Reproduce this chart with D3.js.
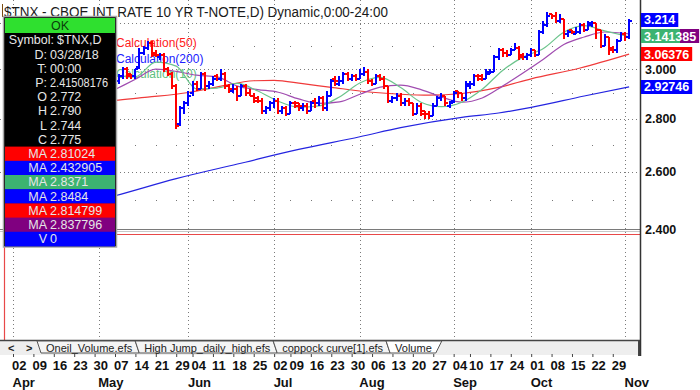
<!DOCTYPE html>
<html>
<head>
<meta charset="utf-8">
<script src="https://cdn.jsdelivr.net/npm/d3@7"></script>
<style>
  body { margin: 0; background: #fff; }
  svg { display: block; font-family: Arial, "Liberation Sans", sans-serif; }
  .grid { stroke: #7a7a7a; stroke-width: 1; stroke-dasharray: 1,3; fill: none; }
  .bar { fill: none; stroke-width: 2; shape-rendering: crispEdges; }
  .up { stroke: #0000ff; }
  .down { stroke: #ff0000; }
  .ma { fill: none; stroke-width: 1.2; }
  .price-axis text { font-size: 12.5px; font-weight: bold; fill: #111; font-family: Arial, "Liberation Sans", sans-serif; }
  .date-axis text { font-size: 13px; font-weight: bold; fill: #111; font-family: Arial, "Liberation Sans", sans-serif; }
  .date-axis line { stroke: #444; }
  .info text { font-size: 12.5px; fill: #e6e6e6; }
  .tab text { font-size: 11px; fill: #222; }
</style>
</head>
<body>
<svg id="chart"></svg>
<script>
const WIDTH = 700, HEIGHT = 390;
const PLOT_RIGHT = 640, PRICE_BOTTOM = 229, LOWER_BOTTOM = 340;

// ---- trading calendar (Apr 2 .. Nov 2, 2018) ----
const holidays = ['2018-05-28', '2018-07-04', '2018-09-03'];
const days = [];
for (let t = Date.UTC(2018, 3, 2); t <= Date.UTC(2018, 10, 2); t += 864e5) {
  const d = new Date(t), wd = d.getUTCDay();
  if (wd === 0 || wd === 6 || holidays.includes(d.toISOString().slice(0, 10))) continue;
  days.push(d);
}

// ---- price bars, first visible bar is index 22 (May 2) ----
const FIRST = 22;
const opens = [
  2.96,2.97,2.94,2.94,2.95,2.97,3.00,2.98,2.97,3.01,3.07,3.09,3.11,3.07,3.05,3.06,3.00,2.98,2.93,2.78,2.84,
  2.86,2.90,2.94,2.92,2.98,2.93,2.94,2.97,2.96,2.98,2.93,2.91,2.92,2.89,2.93,2.90,2.89,2.88,2.87,2.83,2.84,
  2.86,2.87,2.83,2.84,2.82,2.86,2.86,2.84,2.85,2.83,2.87,2.86,2.88,2.84,2.89,2.96,2.94,2.95,2.98,2.96,2.97,
  2.96,2.98,2.99,2.95,2.94,2.97,2.96,2.93,2.87,2.88,2.89,2.86,2.87,2.86,2.82,2.85,2.83,2.82,2.81,2.85,2.88,2.89,2.85,
  2.87,2.91,2.90,2.88,2.93,2.94,2.97,2.97,2.96,2.98,2.99,3.05,3.08,3.07,3.06,3.08,3.09,3.06,3.05,
  3.06,3.08,3.06,3.16,3.19,3.24,3.23,3.21,3.22,3.15,3.17,3.15,3.16,3.19,3.17,3.19,3.20,3.17,3.10,3.14,3.09,3.08,3.12,
  3.15,3.14
];
const highs = [
  2.99,2.98,2.96,2.96,2.98,3.01,3.01,2.98,3.00,3.09,3.10,3.12,3.12,3.08,3.07,3.07,3.01,2.99,2.94,2.85,2.87,
  2.91,2.95,2.95,2.99,2.99,2.95,2.97,2.98,3.00,2.99,2.94,2.94,2.93,2.94,2.94,2.92,2.90,2.89,2.88,2.85,2.87,
  2.88,2.88,2.85,2.85,2.87,2.87,2.86,2.86,2.86,2.87,2.88,2.89,2.89,2.91,2.96,2.97,2.97,2.99,2.99,2.98,2.98,
  3.00,3.01,3.00,2.96,2.98,2.98,2.97,2.93,2.89,2.90,2.90,2.88,2.88,2.86,2.86,2.86,2.83,2.83,2.86,2.89,2.90,2.89,2.87,
  2.91,2.91,2.90,2.95,2.95,2.98,2.98,2.98,3.00,3.00,3.06,3.09,3.09,3.08,3.09,3.11,3.10,3.07,3.07,
  3.09,3.08,3.17,3.21,3.25,3.24,3.25,3.24,3.22,3.17,3.17,3.18,3.20,3.20,3.21,3.21,3.20,3.17,3.15,3.14,3.10,3.13,3.16,
  3.16,3.22
];
const lows = [
  2.95,2.93,2.92,2.94,2.94,2.96,2.96,2.96,2.96,3.00,3.06,3.08,3.05,3.05,3.04,2.99,2.97,2.92,2.76,2.77,2.82,
  2.85,2.89,2.91,2.92,2.91,2.92,2.93,2.95,2.95,2.92,2.90,2.90,2.87,2.89,2.89,2.89,2.86,2.86,2.82,2.82,2.83,
  2.84,2.82,2.82,2.81,2.82,2.84,2.83,2.83,2.82,2.83,2.84,2.85,2.83,2.83,2.89,2.93,2.93,2.94,2.95,2.95,2.95,
  2.96,2.97,2.94,2.93,2.94,2.95,2.92,2.86,2.86,2.87,2.85,2.85,2.85,2.81,2.82,2.81,2.80,2.80,2.81,2.85,2.87,2.85,2.84,
  2.86,2.88,2.87,2.87,2.92,2.93,2.95,2.95,2.96,2.98,2.99,3.04,3.05,3.05,3.06,3.08,3.04,3.04,3.04,
  3.05,3.05,3.06,3.15,3.18,3.22,3.20,3.20,3.13,3.14,3.15,3.15,3.15,3.16,3.17,3.18,3.13,3.09,3.10,3.06,3.07,3.07,3.12,
  3.12,3.13
];
const closes = [
  2.97,2.94,2.95,2.95,2.97,3.00,2.97,2.97,3.00,3.07,3.09,3.11,3.06,3.06,3.06,3.00,2.98,2.93,2.77,2.84,2.86,
  2.89,2.94,2.92,2.98,2.93,2.94,2.96,2.96,2.98,2.93,2.92,2.92,2.89,2.93,2.90,2.89,2.87,2.87,2.83,2.84,2.86,
  2.87,2.83,2.84,2.82,2.86,2.85,2.85,2.85,2.83,2.86,2.86,2.88,2.84,2.89,2.95,2.95,2.95,2.98,2.96,2.97,2.96,
  2.98,2.99,2.95,2.94,2.97,2.96,2.93,2.87,2.88,2.89,2.86,2.87,2.86,2.82,2.85,2.82,2.82,2.81,2.85,2.88,2.89,2.86,2.86,
  2.90,2.90,2.88,2.94,2.94,2.97,2.96,2.96,2.99,2.99,3.05,3.08,3.07,3.06,3.08,3.09,3.05,3.05,3.06,
  3.08,3.06,3.16,3.19,3.23,3.23,3.21,3.22,3.15,3.16,3.16,3.16,3.19,3.17,3.20,3.20,3.17,3.10,3.14,3.08,3.08,3.12,3.15,
  3.14,3.21
];

// ---- moving averages, read at bar indexes ----
const maIdx  = [20,25,30,35,40,45,50,55,60,65,70,75,80,85,90,95,100,105,110,115,120,125,130,135,140,145,151];
const ma10   = [2.947,2.971,2.969,3.030,3.013,2.919,2.922,2.941,2.910,2.869,2.845,2.850,2.886,2.943,2.966,2.924,2.865,2.847,2.865,2.917,2.995,3.051,3.088,3.159,3.188,3.165,3.139];
const ma20   = [2.875,2.916,2.958,3.000,2.991,2.975,2.968,2.930,2.916,2.905,2.878,2.860,2.866,2.897,2.926,2.934,2.916,2.886,2.865,2.882,2.930,2.984,3.042,3.105,3.138,3.160,3.152];
const ma50Idx = [20,25,33,43,51,59,64,71,78,88,95,102,110,119,127,139,151];
const ma50    = [2.862,2.872,2.885,2.904,2.930,2.952,2.954,2.940,2.925,2.905,2.897,2.893,2.900,2.925,2.960,3.005,3.064];
const ma200Idx = [0,25,40,55,70,85,95,110,119,127,140,151];
const ma200    = [2.43,2.514,2.575,2.628,2.682,2.730,2.765,2.805,2.822,2.844,2.890,2.927];

// ---- axis / label text ----
const gridLevels = [3.2, 3.0, 2.8, 2.6, 2.4];
const priceTicks = [3.0, 2.8, 2.6, 2.4];   // 3.200 sits under the last-price box
const minorLevels = [3.1, 2.9, 2.7, 2.5];
const endLabels = [
  { text: '3.214',    value: 3.214,    fill: '#0000ff' },
  { text: '3.141385', value: 3.141385, fill: '#3cb371', tail: '#800080', split: 39 },
  { text: '3.06376',  value: 3.06376,  fill: '#ff0000' },
  { text: '2.92746',  value: 2.92746,  fill: '#0000ff' }
];
const studyNames = [
  { text: 'Calculation(50)',  color: '#ff2020' },
  { text: 'Calculation(200)', color: '#2020ff' },
  { text: 'Calculation(10)',  color: '#5fbf80' }
];
const infoRows = [
  ['Symbol:', '$TNX,D'], ['D:', '03/28/18'], ['T:', '00:00'], ['P:', '2.41508176'],
  ['O', '2.772'], ['H', '2.790'], ['L', '2.744'], ['C', '2.775']
];
const maRows = [
  ['MA', '2.81024', '#ff0000'], ['MA', '2.432905', '#0000ff'], ['MA', '2.8371', '#3cb371'],
  ['MA', '2.8484', '#0000ff'], ['MA', '2.814799', '#ff0000'], ['MA', '2.837796', '#800080'],
  ['V', '0', '#0000ff']
];
const tabs = ['Oneil_Volume.efs', 'High Jump_daily_high.efs', 'coppock curve[1].efs', 'Volume'];

// ---- scales ----
const x = d3.scaleLinear().domain([0, days.length - 1]).range([13, 629.1]);
const y = d3.scaleLog().domain([2.4, 3.2]).range([PRICE_BOTTOM, 23]);

const weekIdx = days.map((d, i) => i).filter(i => i === 0 || days[i].getUTCDay() <= days[i - 1].getUTCDay());
const monthIdx = days.map((d, i) => i).filter(i => i === 0 || days[i].getUTCMonth() !== days[i - 1].getUTCMonth());
const px = i => Math.round(x(i)) + 0.5;

const svg = d3.select('#chart').attr('width', WIDTH).attr('height', HEIGHT);
svg.append('rect').attr('width', WIDTH).attr('height', HEIGHT).attr('fill', '#fff');

svg.append('clipPath').attr('id', 'clipPrice')
  .append('rect').attr('x', 0).attr('y', 0).attr('width', PLOT_RIGHT).attr('height', PRICE_BOTTOM);

// grid
const grid = svg.append('g');
grid.selectAll('.vgrid').data(monthIdx).join('line')
  .attr('class', 'grid')
  .attr('x1', px).attr('x2', px).attr('y1', 0).attr('y2', LOWER_BOTTOM);
grid.selectAll('.hgrid').data(gridLevels).join('line')
  .attr('class', 'grid')
  .attr('x1', 0).attr('x2', PLOT_RIGHT)
  .attr('y1', d => Math.round(y(d)) + 0.5).attr('y2', d => Math.round(y(d)) + 0.5);

const dotPts = [];
weekIdx.filter(i => !monthIdx.includes(i)).forEach(i => minorLevels.forEach(v => dotPts.push([i, v])));
grid.selectAll('.dot').data(dotPts).join('rect')
  .attr('x', d => Math.round(x(d[0]))).attr('y', d => Math.round(y(d[1])))
  .attr('width', 1).attr('height', 1).attr('fill', '#777');

// study labels
svg.append('g').selectAll('text').data(studyNames).join('text')
  .attr('x', 116).attr('y', (d, i) => 47 + i * 15.5)
  .attr('font-size', 12).attr('fill', d => d.color)
  .text(d => d.text);

// moving averages
const price = svg.append('g').attr('clip-path', 'url(#clipPrice)');
const line = d3.line().x(d => x(d[0])).y(d => y(d[1])).curve(d3.curveMonotoneX);
const maSeries = [
  { idx: ma200Idx, vals: ma200, color: '#2424e0' },
  { idx: ma50Idx, vals: ma50, color: '#f03a3a' },
  { idx: maIdx, vals: ma20, color: '#a04cb0' },
  { idx: maIdx, vals: ma10, color: '#6cc48c' }
];
maSeries.forEach(s => {
  price.append('path').attr('class', 'ma').attr('stroke', s.color)
    .attr('d', line(s.idx.map((i, k) => [i, s.vals[k]])));
});

// OHLC bars
const bars = closes.map((c, k) => ({ i: FIRST + k, o: opens[k], h: highs[k], l: lows[k], c }));
price.selectAll('.bar').data(bars).join('path')
  .attr('class', d => 'bar ' + (d.c >= d.o ? 'up' : 'down'))
  .attr('d', d => {
    const bx = Math.round(x(d.i));
    return `M${bx},${y(d.h)}V${y(d.l)}M${bx - 3},${y(d.o)}H${bx}M${bx},${y(d.c)}H${bx + 3}`;
  });

// pane separator and lower pane
svg.append('line').attr('x1', 0).attr('x2', PLOT_RIGHT).attr('y1', 229.5).attr('y2', 229.5)
  .attr('stroke', '#7a7a7a').attr('stroke-width', 1.2);
svg.append('line').attr('x1', 0).attr('x2', PLOT_RIGHT).attr('y1', 231.5).attr('y2', 231.5)
  .attr('stroke', '#c8c8c8');
svg.append('path').attr('d', `M4.5,${LOWER_BOTTOM}V234.5H${PLOT_RIGHT}`)
  .attr('fill', 'none').attr('stroke', '#e84848').attr('stroke-width', 1.2);

// tab row
const tabRow = svg.append('g').attr('class', 'tab');
tabRow.append('rect').attr('x', 0).attr('y', 341).attr('width', PLOT_RIGHT).attr('height', 14).attr('fill', '#eeeeee');
tabRow.append('line').attr('x1', 0).attr('x2', PLOT_RIGHT).attr('y1', 340.5).attr('y2', 340.5)
  .attr('stroke', '#444').attr('stroke-width', 1.3);
tabRow.append('text').attr('x', 8).attr('y', 352).attr('font-size', 13).attr('font-weight', 'bold').attr('fill', '#555').text('<');
tabRow.append('text').attr('x', 26).attr('y', 352).attr('font-size', 13).attr('font-weight', 'bold').attr('fill', '#555').text('>');
let tx = 37;
tabs.forEach((t, k) => {
  const active = k === tabs.length - 1;
  const g = tabRow.append('g');
  const label = g.append('text').attr('x', tx + 9).attr('y', 351.5).text(t);
  const w = label.node().getComputedTextLength();
  const x1 = tx + 9 + w + 3;
  const pts = active
    ? [[tx, 341], [tx + 4, 353], [x1 + 1, 353], [x1 + 7, 341]]
    : [[tx, 341], [tx + 4, 353], [x1 + 4, 353], [x1, 341]];
  g.insert('polygon', 'text').attr('points', pts.map(p => p.join(',')).join(' '))
    .attr('fill', active ? '#ffffff' : '#f4f4f4').attr('stroke', '#555').attr('stroke-width', 1);
  tx = x1;
});
svg.append('line').attr('x1', PLOT_RIGHT - 1).attr('x2', PLOT_RIGHT - 1).attr('y1', 341).attr('y2', 356)
  .attr('stroke', '#444').attr('stroke-width', 2);

// date axes
const dateAxis = d3.axisBottom(x).tickValues(weekIdx)
  .tickFormat(i => d3.utcFormat('%d')(days[i])).tickSize(3).tickPadding(4);
svg.append('g').attr('class', 'date-axis').attr('transform', 'translate(0,354)')
  .call(dateAxis)
  .call(g => g.select('.domain').remove())
  .call(g => g.selectAll('text').attr('text-anchor', 'start').attr('x', -1.5));
const monthAxis = d3.axisBottom(x).tickValues(monthIdx)
  .tickFormat(i => d3.utcFormat('%b')(days[i])).tickSize(0).tickPadding(6);
svg.append('g').attr('class', 'date-axis').attr('transform', 'translate(0,372)')
  .call(monthAxis)
  .call(g => g.select('.domain').remove())
  .call(g => g.selectAll('text').attr('text-anchor', 'start').attr('x', -1));

// price axis
svg.append('line').attr('x1', PLOT_RIGHT + 0.5).attr('x2', PLOT_RIGHT + 0.5).attr('y1', 0).attr('y2', 356)
  .attr('stroke', '#333').attr('stroke-width', 1.5);
svg.append('g').attr('class', 'price-axis').attr('transform', `translate(${PLOT_RIGHT},0)`)
  .call(d3.axisRight(y).tickValues(priceTicks).tickFormat(d3.format('.3f')).tickSize(0).tickPadding(5))
  .call(g => g.select('.domain').remove());

const endG = svg.append('g').attr('class', 'price-axis');
endLabels.forEach(lb => {
  const cy = y(lb.value);
  const g = endG.append('g');
  const t = g.append('text').attr('x', 644).attr('y', cy).attr('dy', '0.35em')
    .attr('fill', '#fff').style('fill', '#fff').text(lb.text);
  const w = t.node().getComputedTextLength();
  g.insert('rect', 'text').attr('x', 641).attr('y', Math.round(cy) - 7).attr('height', 14)
    .attr('width', w + 6).attr('fill', lb.tail || lb.fill);
  if (lb.tail) {
    g.insert('rect', 'text').attr('x', 641).attr('y', Math.round(cy) - 7).attr('height', 14)
      .attr('width', lb.split).attr('fill', lb.fill);
  }
});

// title
svg.append('line').attr('x1', 2.5).attr('x2', 2.5).attr('y1', 4).attr('y2', 17).attr('stroke', '#7a4a10');
svg.append('text').attr('x', 4).attr('y', 16.5).attr('font-size', 14).attr('fill', '#1a1a1a')
  .attr('textLength', 384).attr('lengthAdjust', 'spacingAndGlyphs')
  .text('$TNX - CBOE INT RATE 10 YR T-NOTE,D) Dynamic,0:00-24:00');

// info box
const ROW = 14.2, BOX_TOP = 33;
const info = svg.append('g').attr('class', 'info');
info.append('rect').attr('x', 3.5).attr('y', 16.5).attr('width', 113).attr('height', 230.5)
  .attr('fill', '#000').attr('stroke', '#a8a8a8').attr('stroke-width', 1.5);
info.append('rect').attr('x', 5).attr('y', 18).attr('width', 110).attr('height', 15).attr('fill', '#2fe02f');
info.append('text').attr('x', 60).attr('y', 30).attr('text-anchor', 'middle')
  .style('fill', '#0b3d0b').text('OK');
info.selectAll('.maRow').data(maRows).join('rect')
  .attr('x', 5).attr('width', 110)
  .attr('y', (d, i) => BOX_TOP + (infoRows.length + i) * ROW).attr('height', ROW + 0.4)
  .attr('fill', d => d[2]);
const allRows = infoRows.concat(maRows);
allRows.forEach((r, i) => {
  const cy = BOX_TOP + i * ROW + ROW / 2;
  const isSym = i === 0;
  info.append('text').attr('x', isSym ? 54 : 47).attr('y', cy).attr('dy', '0.35em')
    .attr('text-anchor', 'end').text(r[0]);
  const v = info.append('text').attr('x', isSym ? 57 : 50).attr('y', cy).attr('dy', '0.35em').text(r[1]);
  if (v.node().getComputedTextLength() > 58) v.attr('textLength', 58).attr('lengthAdjust', 'spacingAndGlyphs');
});
</script>
</body>
</html>
